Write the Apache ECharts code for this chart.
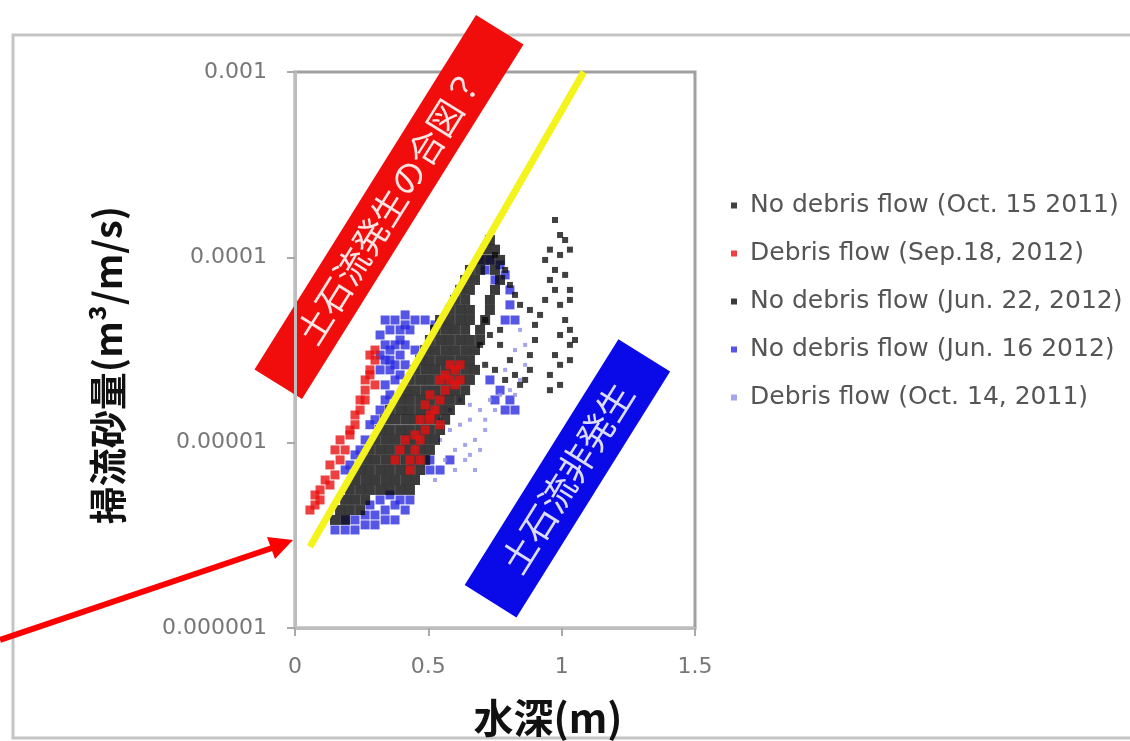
<!DOCTYPE html>
<html>
<head>
<meta charset="utf-8">
<script src="https://cdn.jsdelivr.net/npm/echarts/dist/echarts.min.js"></script>
<style>
  html, body { margin: 0; padding: 0; background: #fff; }
  #chart { width: 1130px; height: 741px; }
</style>
</head>
<body>
<div id="chart"></div>
<script>
// 軸の目盛ラベル
const xTickLabels = ['0', '0.5', '1', '1.5'];
const yTickLabels = ['0.000001', '0.00001', '0.0001', '0.001'];

// 凡例の名前
const seriesNames = [
  'No debris flow (Oct. 15 2011)',
  'Debris flow (Sep.18, 2012)',
  'No debris flow (Jun. 22, 2012)',
  'No debris flow (Jun. 16 2012)',
  'Debris flow (Oct. 14, 2011)'
];

// [水深(m), 掃流砂量(m3/m/s)]
const oct15 = [
  [0.750, 1.03e-4], [0.788, 8.55e-5], [0.806, 7.10e-5], [0.825, 6.27e-5], [0.844, 5.54e-5],
  [0.881, 5.20e-5], [0.919, 4.89e-5], [0.900, 4.32e-5], [0.900, 3.58e-5], [0.881, 2.97e-5],
  [0.881, 2.47e-5], [0.863, 2.18e-5], [0.825, 2.32e-5], [0.788, 2.18e-5], [0.750, 2.47e-5],
  [0.713, 2.63e-5], [0.694, 3.37e-5], [0.731, 3.81e-5], [0.769, 4.06e-5], [0.713, 4.59e-5],
  [0.769, 3.37e-5], [0.806, 2.79e-5], [0.844, 2.05e-5],
  [0.975, 1.59e-4], [0.994, 1.32e-4], [1.013, 1.24e-4], [0.956, 1.10e-4], [0.994, 1.03e-4],
  [1.031, 1.10e-4], [0.938, 9.68e-5], [0.975, 8.55e-5], [1.013, 8.04e-5], [0.956, 7.55e-5],
  [0.975, 6.67e-5], [1.031, 6.67e-5], [0.938, 5.89e-5], [0.994, 5.54e-5], [1.031, 5.89e-5],
  [1.013, 4.59e-5], [1.031, 4.06e-5], [0.994, 3.81e-5], [1.031, 3.37e-5], [1.050, 3.58e-5],
  [0.975, 2.97e-5], [0.994, 2.63e-5], [0.956, 2.32e-5], [0.994, 2.05e-5], [0.956, 1.92e-5],
  [1.031, 2.79e-5]
];

const sep18 = [
  [0.056, 4.33e-6], [0.075, 4.61e-6], [0.094, 4.91e-6], [0.094, 5.56e-6], [0.075, 5.22e-6],
  [0.131, 5.91e-6], [0.113, 6.29e-6], [0.150, 6.70e-6], [0.131, 7.58e-6], [0.169, 8.07e-6],
  [0.150, 9.14e-6], [0.188, 9.14e-6], [0.169, 1.035e-5], [0.206, 1.10e-5], [0.206, 1.17e-5],
  [0.225, 1.25e-5], [0.225, 1.41e-5], [0.244, 1.50e-5], [0.244, 1.70e-5], [0.263, 1.70e-5],
  [0.263, 1.92e-5], [0.300, 2.05e-5], [0.281, 2.32e-5], [0.263, 2.18e-5], [0.300, 2.79e-5],
  [0.281, 2.97e-5], [0.300, 3.16e-5], [0.281, 2.47e-5],
  [0.375, 8.07e-6], [0.394, 9.14e-6], [0.431, 8.07e-6], [0.450, 9.14e-6], [0.413, 1.035e-5],
  [0.450, 1.10e-5], [0.469, 1.035e-5], [0.488, 1.17e-5], [0.469, 1.33e-5], [0.506, 1.41e-5],
  [0.525, 1.50e-5], [0.488, 1.60e-5], [0.544, 1.70e-5], [0.506, 1.81e-5], [0.563, 1.92e-5],
  [0.581, 2.18e-5], [0.600, 2.47e-5], [0.619, 2.63e-5], [0.581, 2.63e-5], [0.544, 2.18e-5],
  [0.619, 2.18e-5], [0.469, 8.07e-6], [0.431, 7.12e-6], [0.506, 1.33e-5], [0.544, 1.25e-5],
  [0.563, 2.32e-5], [0.600, 2.05e-5]
];

const jun22 = [
  [0.150, 3.83e-6], [0.188, 3.83e-6],
  [0.169, 4.33e-6], [0.206, 4.33e-6], [0.244, 4.33e-6],
  [0.188, 4.91e-6], [0.225, 4.91e-6], [0.263, 4.91e-6],
  [0.206, 5.56e-6], [0.244, 5.56e-6], [0.281, 5.56e-6], [0.319, 5.56e-6], [0.356, 5.56e-6], [0.394, 5.56e-6], [0.431, 5.56e-6],
  [0.225, 6.29e-6], [0.263, 6.29e-6], [0.300, 6.29e-6], [0.338, 6.29e-6], [0.375, 6.29e-6], [0.413, 6.29e-6], [0.450, 6.29e-6],
  [0.244, 7.12e-6], [0.281, 7.12e-6], [0.319, 7.12e-6], [0.356, 7.12e-6], [0.394, 7.12e-6], [0.431, 7.12e-6], [0.469, 7.12e-6],
  [0.263, 8.07e-6], [0.300, 8.07e-6], [0.338, 8.07e-6], [0.375, 8.07e-6], [0.413, 8.07e-6], [0.450, 8.07e-6], [0.488, 8.07e-6],
  [0.281, 9.14e-6], [0.319, 9.14e-6], [0.356, 9.14e-6], [0.394, 9.14e-6], [0.431, 9.14e-6], [0.469, 9.14e-6], [0.506, 9.14e-6],
  [0.300, 1.035e-5], [0.338, 1.035e-5], [0.375, 1.035e-5], [0.413, 1.035e-5], [0.450, 1.035e-5], [0.488, 1.035e-5], [0.525, 1.035e-5],
  [0.319, 1.17e-5], [0.356, 1.17e-5], [0.394, 1.17e-5], [0.431, 1.17e-5], [0.469, 1.17e-5], [0.506, 1.17e-5], [0.544, 1.17e-5],
  [0.338, 1.33e-5], [0.375, 1.33e-5], [0.413, 1.33e-5], [0.450, 1.33e-5], [0.488, 1.33e-5], [0.525, 1.33e-5], [0.563, 1.33e-5],
  [0.356, 1.50e-5], [0.394, 1.50e-5], [0.431, 1.50e-5], [0.469, 1.50e-5], [0.506, 1.50e-5], [0.544, 1.50e-5], [0.581, 1.50e-5],
  [0.394, 1.70e-5], [0.431, 1.70e-5], [0.469, 1.70e-5], [0.506, 1.70e-5], [0.544, 1.70e-5], [0.581, 1.70e-5], [0.619, 1.70e-5],
  [0.413, 1.92e-5], [0.450, 1.92e-5], [0.488, 1.92e-5], [0.525, 1.92e-5], [0.563, 1.92e-5], [0.600, 1.92e-5], [0.638, 1.92e-5],
  [0.431, 2.18e-5], [0.469, 2.18e-5], [0.506, 2.18e-5], [0.544, 2.18e-5], [0.581, 2.18e-5], [0.619, 2.18e-5], [0.656, 2.18e-5],
  [0.450, 2.47e-5], [0.488, 2.47e-5], [0.525, 2.47e-5], [0.563, 2.47e-5], [0.600, 2.47e-5], [0.638, 2.47e-5], [0.675, 2.47e-5],
  [0.469, 2.79e-5], [0.506, 2.79e-5], [0.544, 2.79e-5], [0.581, 2.79e-5], [0.619, 2.79e-5], [0.656, 2.79e-5],
  [0.488, 3.16e-5], [0.525, 3.16e-5], [0.563, 3.16e-5], [0.600, 3.16e-5], [0.638, 3.16e-5], [0.675, 3.16e-5],
  [0.506, 3.58e-5], [0.544, 3.58e-5], [0.581, 3.58e-5], [0.619, 3.58e-5], [0.656, 3.58e-5], [0.694, 3.58e-5],
  [0.525, 4.06e-5], [0.563, 4.06e-5], [0.600, 4.06e-5], [0.638, 4.06e-5], [0.694, 4.06e-5],
  [0.544, 4.59e-5], [0.581, 4.59e-5], [0.619, 4.59e-5], [0.656, 4.59e-5], [0.713, 4.59e-5],
  [0.581, 5.20e-5], [0.619, 5.20e-5], [0.656, 5.20e-5], [0.731, 5.20e-5],
  [0.600, 5.89e-5], [0.638, 5.89e-5], [0.731, 5.89e-5],
  [0.619, 6.67e-5], [0.656, 6.67e-5], [0.750, 6.67e-5],
  [0.638, 7.55e-5], [0.675, 7.55e-5], [0.769, 7.55e-5],
  [0.656, 8.55e-5], [0.694, 8.55e-5], [0.750, 8.55e-5],
  [0.694, 9.68e-5], [0.731, 9.68e-5], [0.769, 9.68e-5],
  [0.713, 1.10e-4], [0.750, 1.10e-4],
  [0.731, 1.24e-4]
];

const jun16 = [
  [0.150, 3.38e-6], [0.188, 3.38e-6], [0.225, 3.38e-6], [0.263, 3.60e-6], [0.300, 3.60e-6],
  [0.338, 3.83e-6], [0.375, 3.83e-6], [0.413, 4.33e-6], [0.263, 4.07e-6], [0.300, 4.07e-6],
  [0.338, 4.33e-6], [0.375, 4.61e-6], [0.319, 4.91e-6], [0.356, 5.22e-6], [0.225, 3.83e-6],
  [0.188, 3.83e-6], [0.394, 4.91e-6], [0.281, 4.61e-6], [0.431, 4.91e-6],
  [0.188, 7.12e-6], [0.206, 7.58e-6], [0.225, 8.59e-6], [0.244, 9.14e-6], [0.263, 1.035e-5],
  [0.281, 1.25e-5], [0.300, 1.33e-5], [0.319, 1.50e-5], [0.338, 1.70e-5], [0.356, 1.81e-5],
  [0.375, 2.18e-5], [0.394, 2.32e-5], [0.413, 2.63e-5], [0.450, 3.16e-5],
  [0.338, 4.59e-5], [0.375, 4.59e-5], [0.413, 4.89e-5], [0.450, 4.59e-5], [0.488, 4.59e-5],
  [0.525, 4.32e-5], [0.319, 3.81e-5], [0.356, 4.06e-5], [0.394, 4.06e-5], [0.431, 4.06e-5],
  [0.338, 3.37e-5], [0.375, 3.37e-5], [0.413, 3.37e-5], [0.319, 2.97e-5], [0.356, 2.79e-5],
  [0.394, 2.97e-5], [0.319, 2.47e-5], [0.356, 2.47e-5], [0.338, 2.05e-5],
  [0.356, 3.16e-5], [0.394, 3.58e-5], [0.338, 2.79e-5], [0.375, 2.63e-5], [0.413, 4.32e-5],
  [0.694, 9.68e-5], [0.731, 9.68e-5], [0.769, 9.10e-5], [0.788, 8.04e-5], [0.713, 8.55e-5],
  [0.750, 7.55e-5], [0.806, 6.67e-5], [0.806, 5.54e-5], [0.788, 4.59e-5], [0.825, 4.59e-5],
  [0.506, 8.07e-6], [0.544, 7.12e-6], [0.581, 8.07e-6], [0.506, 7.12e-6],
  [0.731, 2.18e-5], [0.769, 1.92e-5], [0.806, 1.70e-5], [0.825, 1.50e-5], [0.750, 1.70e-5],
  [0.788, 1.50e-5]
];

const oct14 = [
  [0.544, 1.035e-5], [0.581, 1.17e-5], [0.619, 1.25e-5], [0.656, 1.33e-5], [0.694, 1.50e-5],
  [0.731, 1.70e-5], [0.769, 1.81e-5], [0.806, 1.92e-5], [0.600, 9.14e-6], [0.638, 9.72e-6],
  [0.675, 1.035e-5], [0.713, 1.17e-5], [0.563, 8.07e-6], [0.600, 7.12e-6], [0.638, 8.07e-6],
  [0.656, 8.59e-6], [0.694, 9.14e-6], [0.525, 6.29e-6], [0.844, 2.18e-5], [0.825, 1.81e-5],
  [0.863, 2.63e-5], [0.788, 2.47e-5], [0.750, 1.50e-5], [0.713, 1.33e-5], [0.656, 1.60e-5],
  [0.619, 1.70e-5], [0.581, 1.50e-5], [0.544, 1.33e-5], [0.844, 4.06e-5], [0.863, 3.37e-5],
  [0.825, 3.16e-5], [0.675, 7.12e-6]
];

// 黄色の境界線
const yellowLine = [[0.056, 2.74e-6], [1.083, 1e-3]];

const chart = echarts.init(document.getElementById('chart'));

const deg = Math.PI / 180;

const option = {
  backgroundColor: '#fff',
  animation: false,
  grid: {
    left: 295, top: 72, width: 400, height: 556,
    show: true, borderColor: '#a0a0a0', borderWidth: 3
  },
  xAxis: {
    type: 'value', min: 0, max: 1.5, interval: 0.5,
    axisLine: { show: true, onZero: false, lineStyle: { color: '#bdbdbd', width: 3 } },
    axisTick: { show: true, length: 8, lineStyle: { color: '#aaa', width: 2 } },
    splitLine: { show: false },
    axisLabel: {
      margin: 28, color: '#777', fontSize: 22, fontFamily: 'DejaVu Sans',
      formatter: (v, i) => xTickLabels[i]
    }
  },
  yAxis: {
    type: 'log', logBase: 10, min: 1e-6, max: 1e-3,
    axisLine: { show: true, lineStyle: { color: '#bdbdbd', width: 3 } },
    axisTick: { show: true, length: 8, lineStyle: { color: '#aaa', width: 2 } },
    splitLine: { show: false },
    minorTick: { show: false },
    axisLabel: {
      margin: 28, color: '#777', fontSize: 22, fontFamily: 'DejaVu Sans',
      formatter: (v, i) => yTickLabels[i]
    }
  },
  legend: {
    orient: 'vertical', left: 726, top: 188, itemGap: 23,
    icon: 'rect', itemWidth: 6, itemHeight: 6,
    data: seriesNames,
    textStyle: { fontSize: 25, fontFamily: 'DejaVu Sans', color: '#555', padding: [0, 0, 0, 8] }
  },
  series: [
    { name: seriesNames[0], type: 'scatter', data: oct15, symbol: 'rect', symbolSize: 6, z: 3,
      itemStyle: { color: '#111' } },
    { name: seriesNames[1], type: 'scatter', data: sep18, symbol: 'rect', symbolSize: 9, z: 4,
      itemStyle: { color: '#e81010' } },
    { name: seriesNames[2], type: 'scatter', data: jun22, symbol: 'rect', symbolSize: 10, z: 3,
      itemStyle: { color: '#0a0a0a' } },
    { name: seriesNames[3], type: 'scatter', data: jun16, symbol: 'rect', symbolSize: 9, z: 2,
      itemStyle: { color: '#2a2ae0' } },
    { name: seriesNames[4], type: 'scatter', data: oct14, symbol: 'rect', symbolSize: 4, z: 2,
      itemStyle: { color: '#8f8fe6' } },
    { name: 'boundary', type: 'line', data: yellowLine, showSymbol: false, z: 5,
      lineStyle: { color: '#f4f41c', width: 7 } }
  ],
  graphic: [
    // 外枠
    { type: 'rect', z: 0, shape: { x: 13, y: 35, width: 1140, height: 703 },
      style: { fill: 'none', stroke: '#c4c4c4', lineWidth: 3 } },
    // 赤い注記
    { type: 'group', x: 389, y: 207, rotation: 58 * deg, z: 100, children: [
      { type: 'rect', shape: { x: -209, y: -28, width: 418, height: 56 }, style: { fill: '#f20d0d' } },
      { type: 'text', style: { text: '土石流発生の合図？', x: 0, y: 0, textAlign: 'center', textVerticalAlign: 'middle',
        fill: '#ffe4e4', font: '35px "Noto Sans CJK JP"' } }
    ] },
    // 青い注記
    { type: 'group', x: 567, y: 478, rotation: 58 * deg, z: 100, children: [
      { type: 'rect', shape: { x: -145, y: -30, width: 290, height: 61 }, style: { fill: '#0a0ae8' } },
      { type: 'text', style: { text: '土石流非発生', x: 0, y: 0, textAlign: 'center', textVerticalAlign: 'middle',
        fill: '#dcdcff', font: '36px "Noto Sans CJK JP"' } }
    ] },
    // 矢印
    { type: 'line', z: 100, shape: { x1: 0, y1: 640, x2: 272, y2: 548 },
      style: { stroke: '#ff0000', lineWidth: 6 } },
    { type: 'polygon', z: 100, shape: { points: [[293, 540], [267, 537], [275, 559]] },
      style: { fill: '#ff0000' } },
    // 軸タイトル
    { type: 'text', x: 108, y: 365, rotation: 90 * deg, z: 100,
      style: { text: '掃流砂量(m³/m/s)', textAlign: 'center', textVerticalAlign: 'middle',
        fill: '#111', font: 'bold 38px "Noto Sans CJK JP"' } },
    { type: 'text', x: 548, y: 718, z: 100,
      style: { text: '水深(m)', textAlign: 'center', textVerticalAlign: 'middle',
        fill: '#111', font: 'bold 40px "Noto Sans CJK JP"' } }
  ]
};

chart.setOption(option);
</script>
</body>
</html>
